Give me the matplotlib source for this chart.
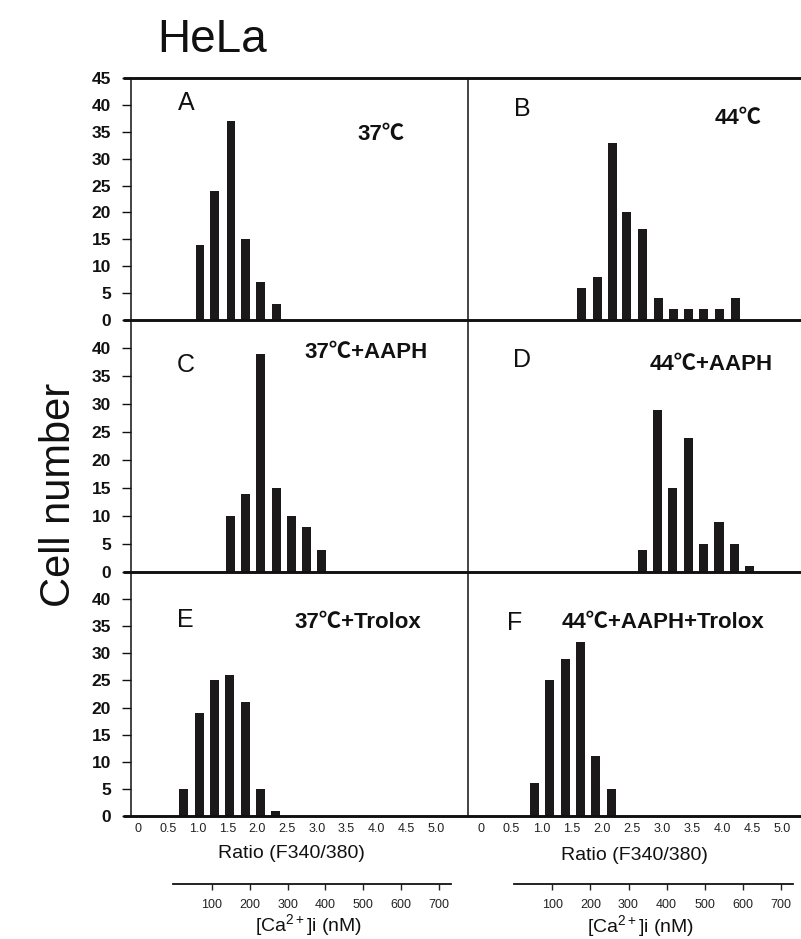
import matplotlib
matplotlib.use('Agg')
import matplotlib.pyplot as plt
from matplotlib.lines import Line2D

plt.rcParams['font.family'] = ['Liberation Sans', 'Noto Sans CJK JP', 'DejaVu Sans']
plt.rcParams['mathtext.fontset'] = 'custom'
plt.rcParams['mathtext.rm'] = 'Liberation Sans'
plt.rcParams['mathtext.it'] = 'Liberation Sans:italic'

# ---------------- data ----------------
a_ratio = [1.04, 1.29, 1.56, 1.81, 2.06, 2.33]
a_count = [14, 24, 37, 15, 7, 3]

b_ratio = [1.67, 1.93, 2.19, 2.42, 2.68, 2.94, 3.20, 3.45, 3.70, 3.96, 4.22]
b_count = [6, 8, 33, 20, 17, 4, 2, 2, 2, 2, 4]

c_ratio = [1.55, 1.81, 2.06, 2.32, 2.58, 2.83, 3.08]
c_count = [10, 14, 39, 15, 10, 8, 4]

d_ratio = [2.68, 2.93, 3.18, 3.44, 3.69, 3.95, 4.20, 4.45]
d_count = [4, 29, 15, 24, 5, 9, 5, 1]

e_ratio = [0.77, 1.03, 1.29, 1.54, 1.80, 2.05, 2.30]
e_count = [5, 19, 25, 26, 21, 5, 1]

f_ratio = [0.885, 1.14, 1.40, 1.65, 1.90, 2.16]
f_count = [6, 25, 29, 32, 11, 5]

panel_letters = ['A', 'B', 'C', 'D', 'E', 'F']
conditions = ['37℃', '44℃', '37℃+AAPH', '44℃+AAPH', '37℃+Trolox', '44℃+AAPH+Trolox']

ratio_ticks = [0, 0.5, 1.0, 1.5, 2.0, 2.5, 3.0, 3.5, 4.0, 4.5, 5.0]
ratio_ticklabels = ['0', '0.5', '1.0', '1.5', '2.0', '2.5', '3.0', '3.5', '4.0', '4.5', '5.0']
ca_ticks = [100, 200, 300, 400, 500, 600, 700]
count_ticks = [0, 5, 10, 15, 20, 25, 30, 35, 40, 45]

# ---------------- layout ----------------
W, H = 801, 939
fig = plt.figure(figsize=(W / 100, H / 100), dpi=100)
fig.patch.set_facecolor('white')


def fx(x):
    return x / W


def fy(y):
    return 1 - y / H


ink = '#111111'
bar_color = '#1b1919'
cols = [(131, 468, 138, 59.6), (468, 801, 481, 60.25)]
rows = [(78, 320), (320, 572), (572, 816)]
series = [(a_ratio, a_count), (b_ratio, b_count), (c_ratio, c_count),
          (d_ratio, d_count), (e_ratio, e_count), (f_ratio, f_count)]

for i, (xs, ys) in enumerate(series):
    r, c = divmod(i, 2)
    x0, x1, zero, scale = cols[c]
    y0, y1 = rows[r]
    ax = fig.add_axes([fx(x0), fy(y1), (x1 - x0) / W, (y1 - y0) / H])
    ax.patch.set_alpha(0)
    ax.bar(xs, ys, width=0.15, color=bar_color, linewidth=0)
    ax.set_xlim((x0 - zero) / scale, (x1 - zero) / scale)
    ax.set_ylim(0, 45)
    for s in ax.spines.values():
        s.set_visible(False)
    if c == 0:
        ax.set_yticks(count_ticks if r == 0 else count_ticks[:-1])
        ax.tick_params(axis='y', direction='out', length=6.3, width=1.0,
                       pad=8, labelsize=12.5, colors=ink)
        for lab in ax.get_yticklabels():
            lab.set_fontweight('bold')
    else:
        ax.set_yticks([])
    if r == 2:
        ax.set_xticks(ratio_ticks)
        ax.set_xticklabels(ratio_ticklabels)
        ax.tick_params(axis='x', length=0, pad=5, labelsize=9, colors='#222222')
    else:
        ax.set_xticks([])

# frame lines
for y in [78, 320, 572, 816]:
    fig.add_artist(Line2D([fx(123), fx(801)], [fy(y), fy(y)], transform=fig.transFigure,
                          color=ink, linewidth=2.1, solid_capstyle='butt'))
for x in [131, 468]:
    fig.add_artist(Line2D([fx(x), fx(x)], [fy(78), fy(816)], transform=fig.transFigure,
                          color=ink, linewidth=1.1, solid_capstyle='butt'))

# panel letters and condition labels
letter_pos = [(186, 103), (522, 109), (186, 365), (522, 360), (185, 620), (515, 623)]
cond_pos = [(381, 135), (738, 119), (366, 352), (711, 364), (358, 622), (663, 623)]
for k in range(6):
    fig.text(fx(letter_pos[k][0]), fy(letter_pos[k][1]), panel_letters[k],
             ha='center', va='center', fontsize=18, color=ink)
    fig.text(fx(cond_pos[k][0]), fy(cond_pos[k][1]), conditions[k],
             ha='center', va='center', fontsize=16, fontweight='bold', color=ink)

# [Ca2+]i axes
ca_axes = [(172.7, 451, 173.8, 0.379), (514.3, 792.7, 514.2, 0.381)]
for (x0, x1, zero, scale) in ca_axes:
    ax = fig.add_axes([fx(x0), fy(884), (x1 - x0) / W, 0.0005])
    ax.patch.set_alpha(0)
    ax.set_xlim((x0 - zero) / scale, (x1 - zero) / scale)
    ax.set_ylim(0, 1)
    for name, s in ax.spines.items():
        s.set_visible(name == 'bottom')
    ax.spines['bottom'].set_linewidth(1.3)
    ax.spines['bottom'].set_color(ink)
    ax.set_yticks([])
    ax.set_xticks(ca_ticks)
    ax.tick_params(axis='x', direction='out', length=4, width=1.0, pad=7,
                   labelsize=9, colors='#222222')

# axis titles
for xc, yc in [(291, 853), (634, 856)]:
    fig.text(fx(xc), fy(yc), 'Ratio (F340/380)', ha='center', va='center',
             fontsize=14, color=ink)
for xc, yc in [(309, 925), (641, 926)]:
    fig.text(fx(xc), fy(yc), '[Ca$^{\\mathregular{2+}}$]i (nM)', ha='center', va='center',
             fontsize=14, color=ink)

fig.text(fx(212), fy(40), 'HeLa', ha='center', va='center', fontsize=33, color=ink)
fig.text(fx(59), fy(495), 'Cell number', ha='center', va='center', rotation=90,
         fontsize=30, color=ink)

fig.savefig('out.png', dpi=100, facecolor='white')
